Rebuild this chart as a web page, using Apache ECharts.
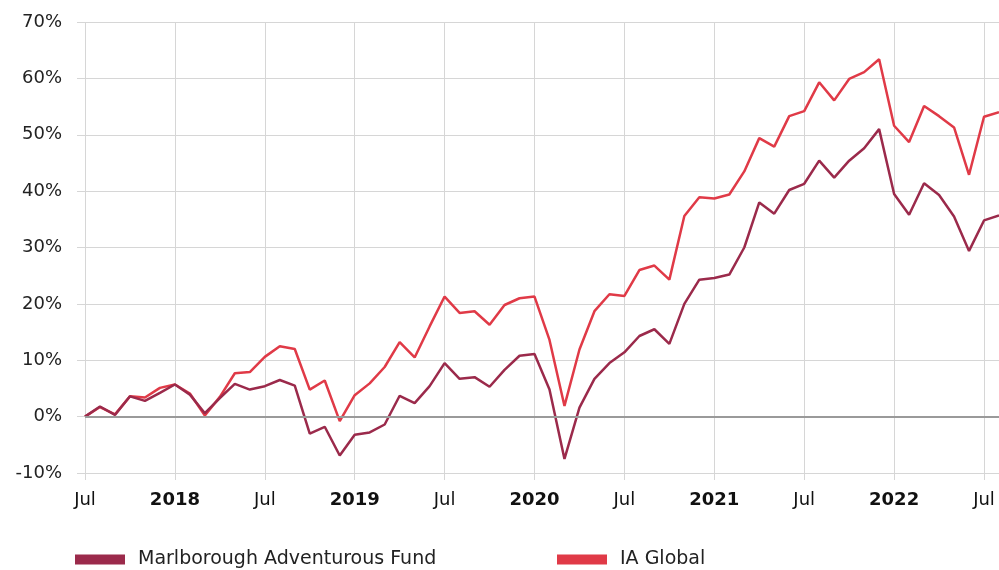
<!DOCTYPE html>
<html>
<head>
<meta charset="utf-8">
<script src="https://cdn.jsdelivr.net/npm/echarts@6/dist/echarts.min.js"></script>
<style>
  html, body { margin: 0; padding: 0; background: #fff; }
  #main { width: 999px; height: 570px; }
</style>
</head>
<body>
<div id="main"></div>
<script>
// monthly points, Jul 2017 .. Aug 2022
var months = ['2017-07','2017-08','2017-09','2017-10','2017-11','2017-12',
  '2018-01','2018-02','2018-03','2018-04','2018-05','2018-06',
  '2018-07','2018-08','2018-09','2018-10','2018-11','2018-12',
  '2019-01','2019-02','2019-03','2019-04','2019-05','2019-06',
  '2019-07','2019-08','2019-09','2019-10','2019-11','2019-12',
  '2020-01','2020-02','2020-03','2020-04','2020-05','2020-06',
  '2020-07','2020-08','2020-09','2020-10','2020-11','2020-12',
  '2021-01','2021-02','2021-03','2021-04','2021-05','2021-06',
  '2021-07','2021-08','2021-09','2021-10','2021-11','2021-12',
  '2022-01','2022-02','2022-03','2022-04','2022-05','2022-06',
  '2022-07','2022-08']

var fundName = 'Marlborough Adventurous Fund'
var sectorName = 'IA Global'

var fund = [0, 1.8, 0.3, 3.6, 2.8, 4.2, 5.7, 3.9, 0.6, 3.3, 5.8, 4.8,
  5.4, 6.5, 5.5, -3.0, -1.8, -6.9, -3.2, -2.8, -1.4, 3.7, 2.4, 5.4,
  9.5, 6.7, 7.0, 5.3, 8.3, 10.8, 11.1, 4.8, -7.5, 1.6, 6.7, 9.5,
  11.4, 14.3, 15.5, 12.9, 20.0, 24.3, 24.6, 25.2, 30.0, 38.0, 36.0, 40.2,
  41.3, 45.4, 42.4, 45.4, 47.6, 51.0, 39.5, 35.8, 41.4, 39.3, 35.5, 29.4,
  34.8, 35.7]

var sector = [0, 1.7, 0.4, 3.6, 3.4, 5.1, 5.7, 4.1, 0.2, 3.5, 7.7, 7.9,
  10.6, 12.5, 12.0, 4.8, 6.4, -0.8, 3.8, 5.9, 8.8, 13.2, 10.5, 16.0,
  21.3, 18.4, 18.7, 16.3, 19.8, 21.0, 21.3, 13.6, 1.9, 11.9, 18.7, 21.7,
  21.4, 26.0, 26.8, 24.3, 35.6, 38.9, 38.7, 39.4, 43.5, 49.4, 47.9, 53.3,
  54.2, 59.3, 56.1, 59.9, 61.1, 63.4, 51.6, 48.7, 55.1, 53.3, 51.3, 42.9,
  53.2, 54.0]

var yTicks = { min: -10, max: 70, step: 10 }

var chart = echarts.init(document.getElementById('main'), null, { renderer: 'canvas' })

var FONT = 'DejaVu Sans, Verdana, sans-serif'
var gridCol = '#d6d6d6'

function everySix(i) { return i % 6 === 0 }

var option = {
  animation: false,
  backgroundColor: '#fff',
  textStyle: { fontFamily: FONT },
  // width a bit wider than the window so Aug 2022 falls just past the edge
  grid: { left: 85, width: 916, top: 22, bottom: 97, containLabel: false },
  legend: [
    {
      data: [fundName], left: 75, top: 550, padding: 0,
      itemWidth: 50, itemHeight: 10, icon: 'rect',
      textStyle: { fontFamily: FONT, fontSize: 19, color: '#222', padding: [0, 0, 0, 8] }
    },
    {
      data: [sectorName], left: 557, top: 550, padding: 0,
      itemWidth: 50, itemHeight: 10, icon: 'rect',
      textStyle: { fontFamily: FONT, fontSize: 19, color: '#222', padding: [0, 0, 0, 8] }
    }
  ],
  xAxis: {
    type: 'category',
    data: months,
    boundaryGap: false,
    axisLine: { show: false, onZero: false },
    axisTick: { show: true, interval: function (i) { return everySix(i) }, length: 7, lineStyle: { color: gridCol } },
    splitLine: { show: true, interval: function (i) { return everySix(i) }, lineStyle: { color: gridCol, width: 1 } },
    axisLabel: {
      interval: function (i) { return everySix(i) },
      margin: 18,
      fontFamily: FONT,
      fontSize: 18,
      color: '#111',
      formatter: function (v) {
        var p = v.split('-')
        if (p[1] === '01') return '{b|' + p[0] + '}'
        return 'Jul'
      },
      rich: { b: { fontWeight: 'bold', fontSize: 18, fontFamily: FONT, color: '#111' } }
    }
  },
  yAxis: {
    type: 'value',
    min: yTicks.min, max: yTicks.max, interval: yTicks.step,
    axisLine: { show: false },
    axisTick: { show: true, length: 8, lineStyle: { color: gridCol } },
    splitLine: { lineStyle: { color: gridCol, width: 1 } },
    axisLabel: { margin: 23, fontFamily: FONT, fontSize: 18, color: '#222', formatter: '{value}%' }
  },
  series: [
    {
      name: fundName, type: 'line', data: fund,
      symbol: 'none', color: '#9b2a4b',
      lineStyle: { width: 2.5, color: '#9b2a4b' },
      z: 3,
      markLine: {
        silent: true, symbol: 'none', label: { show: false },
        lineStyle: { color: '#9a9a9a', width: 2, type: 'solid' },
        data: [{ yAxis: 0 }]
      }
    },
    {
      name: sectorName, type: 'line', data: sector,
      symbol: 'none', color: '#e03a47',
      lineStyle: { width: 2.5, color: '#e03a47' },
      z: 2
    }
  ]
}

chart.setOption(option)
</script>
</body>
</html>
